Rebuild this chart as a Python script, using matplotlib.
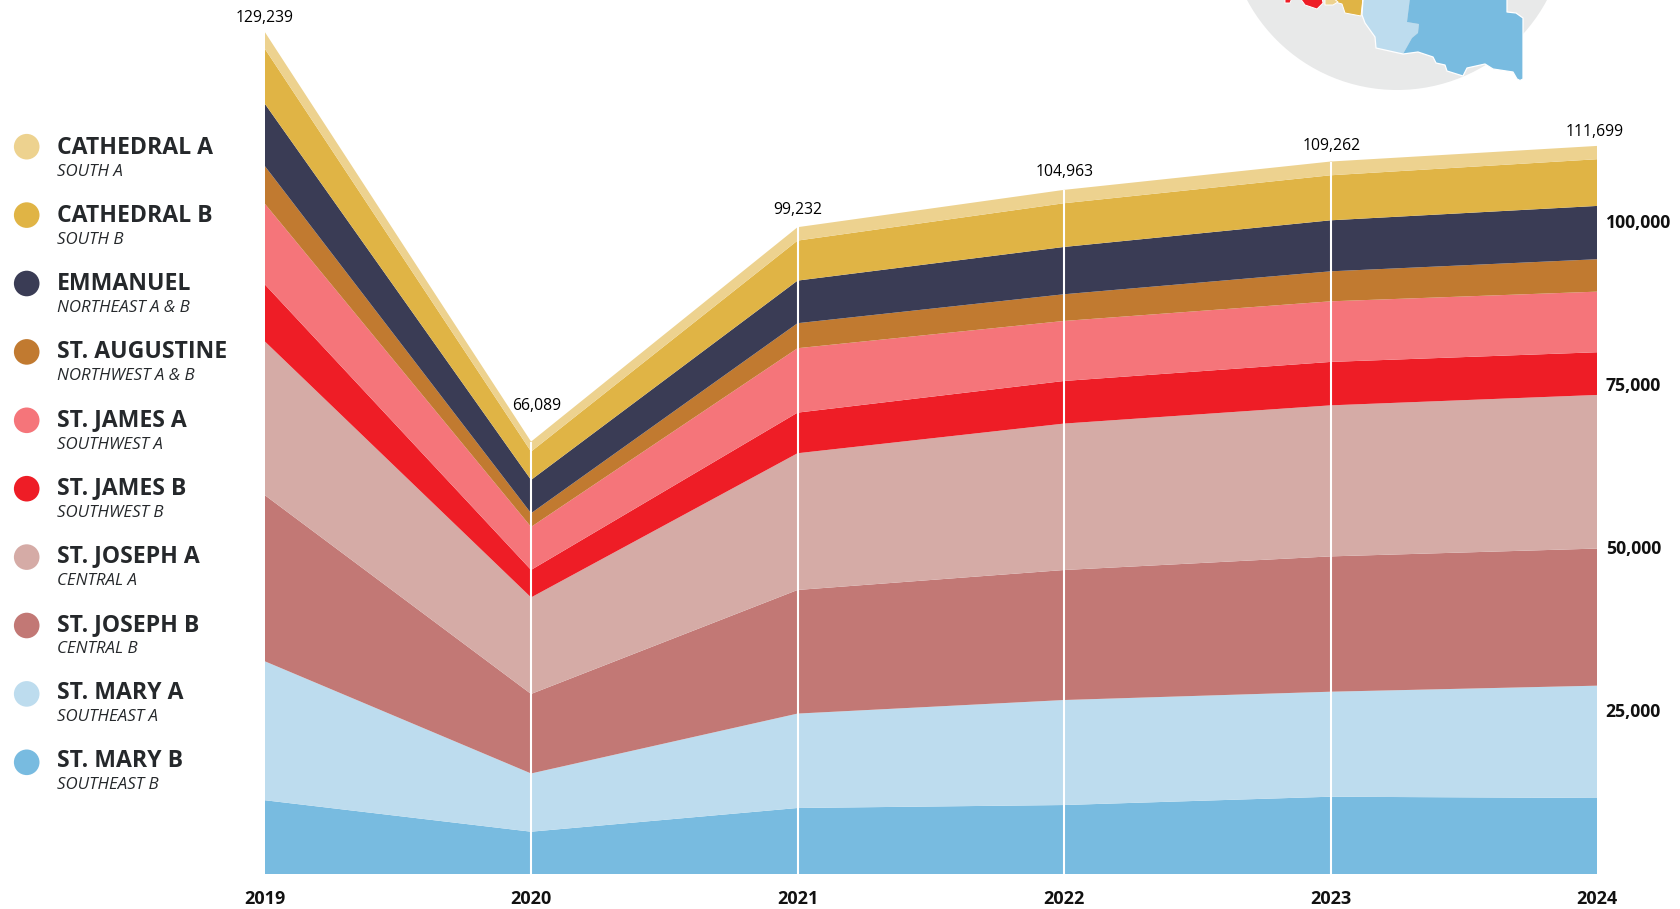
import matplotlib
matplotlib.use("Agg")
import matplotlib.pyplot as plt
from matplotlib.patches import Circle, Polygon
from matplotlib.transforms import ScaledTranslation

plt.rcParams['font.family'] = ['Open Sans', 'DejaVu Sans']

years = [2019, 2020, 2021, 2022, 2023, 2024]
totals = [129239, 66089, 99232, 104963, 109262, 111699]
total_labels = ['129,239', '66,089', '99,232', '104,963', '109,262', '111,699']
y_ticks = [25000, 50000, 75000, 100000]
y_tick_labels = ['25,000', '50,000', '75,000', '100,000']

st_mary_b = [11365, 6535, 10170, 10625, 11900, 11705]
st_mary_a = [21320, 8930, 14480, 16105, 16105, 17225]
st_joseph_b = [25490, 12195, 18960, 19940, 20755, 21030]
st_joseph_a = [23590, 14805, 20970, 22460, 23165, 23560]
st_james_b = [8745, 4220, 6230, 6535, 6660, 6550]
st_james_a = [12380, 6595, 9880, 9205, 9295, 9295]
st_augustine = [5785, 2100, 3835, 4095, 4600, 4970]
emmanuel = [9555, 5110, 6535, 7255, 7825, 8175]
cathedral_b = [8435, 4340, 6135, 6705, 6905, 7165]
cathedral_a = [2575, 1535, 2055, 2050, 2110, 2040]

series_bottom_up = [st_mary_b, st_mary_a, st_joseph_b, st_joseph_a, st_james_b,
                    st_james_a, st_augustine, emmanuel, cathedral_b, cathedral_a]
colors_bottom_up = ['#78BBE0', '#BDDCEE', '#C27875', '#D5ABA6', '#EE1D26',
                    '#F5757A', '#C17A30', '#3A3C55', '#E0B445', '#EDD28F']

legend_names = ['CATHEDRAL A', 'CATHEDRAL B', 'EMMANUEL', 'ST. AUGUSTINE', 'ST. JAMES A',
                'ST. JAMES B', 'ST. JOSEPH A', 'ST. JOSEPH B', 'ST. MARY A', 'ST. MARY B']
legend_subs = ['SOUTH A', 'SOUTH B', 'NORTHEAST A & B', 'NORTHWEST A & B', 'SOUTHWEST A',
               'SOUTHWEST B', 'CENTRAL A', 'CENTRAL B', 'SOUTHEAST A', 'SOUTHEAST B']

# Decorative inset map outlines, in figure pixels
map_mary_b = [(1410, -2), (1407, 22), (1419, 24), (1418, 33), (1412, 38), (1403, 54), (1418, 52),
              (1433, 57), (1436, 63), (1445, 65), (1447, 71), (1463, 76), (1467, 68), (1485, 64),
              (1493, 69), (1513, 72), (1517, 79), (1520, 80.5), (1523, 79), (1523, 18), (1516, 13),
              (1507, 12), (1507, -2)]
map_mary_a = [(1363, -2), (1362, 15), (1365, 23), (1375, 37), (1376, 48), (1403, 54), (1412, 38),
              (1418, 33), (1419, 24), (1407, 22), (1410, -2)]
map_coast = [(1363, -2), (1362, 15), (1365, 23), (1375, 37), (1376, 48), (1403, 54), (1418, 52),
             (1433, 57), (1436, 63), (1445, 65), (1447, 71), (1463, 76), (1467, 68), (1485, 64),
             (1493, 69), (1513, 72), (1517, 79), (1520, 80.5), (1523, 79), (1523, 18), (1516, 13),
             (1507, 12), (1507, -2)]
map_cath_b = [(1333, -2), (1335, 2), (1342, 4), (1345, 13), (1361, 16), (1363, -2)]
map_cath_a = [(1325, -2), (1325, 5), (1333, 5), (1338, 2), (1333, -2)]
map_red_1 = [(1285, -2), (1285, 3), (1290, 3), (1292, -2)]
map_red_2 = [(1300, -2), (1305, 5), (1317, 9), (1323, 3), (1322, -2)]

# Offsets of the total labels from the top of each stack: (x px, y px)
total_label_offsets = [(0, 14), (6, 36), (0, 17), (1, 18), (1, 16), (-2, 14)]

W, H = 1680, 909
X0, X1 = 264.6, 1597.0
BASE = 874.3
PX_PER_UNIT = 0.00652

fig = plt.figure(figsize=(W / 100, H / 100), dpi=100, facecolor='white')
ax = fig.add_axes([X0 / W, 1 - BASE / H, (X1 - X0) / W, BASE / H])
ax.stackplot(years, series_bottom_up, colors=colors_bottom_up, linewidth=0)
ax.set_xlim(2019, 2024)
ax.set_ylim(0, BASE / PX_PER_UNIT)
ax.patch.set_alpha(0)
for s in ax.spines.values():
    s.set_visible(False)

stack_tops = [sum(s[i] for s in series_bottom_up) for i in range(len(years))]
for yr, top in zip(years[1:-1], stack_tops[1:-1]):
    ax.plot([yr, yr], [0, top], color='white', lw=1.5, solid_capstyle='butt', zorder=3)

ax.set_xticks(years)
ax.set_xticklabels([str(y) for y in years], fontsize=13, fontweight='bold', color='#111111')
ax.yaxis.tick_right()
ax.set_yticks(y_ticks)
ax.set_yticklabels(y_tick_labels, fontsize=12.7, fontweight='bold', color='#111111')
ax.tick_params(axis='x', length=0, pad=11)
ax.tick_params(axis='y', length=0, pad=6.3)
shift_up = ScaledTranslation(0, 1 / 72 * 0.72, fig.dpi_scale_trans)
for lab in ax.get_yticklabels():
    lab.set_transform(lab.get_transform() + shift_up)

for yr, top, lab, (dx, dy) in zip(years, stack_tops, total_labels, total_label_offsets):
    ax.annotate(lab, (yr, top), xytext=(dx * 0.72, dy * 0.72), textcoords='offset points', ha='center',
                va='center', fontsize=11.3, color='#000000', clip_on=False)

# Pixel overlay for the legend and the inset map
ov = fig.add_axes([0, 0, 1, 1], facecolor='none')
ov.set_xlim(0, W)
ov.set_ylim(H, 0)
ov.axis('off')
ov.add_patch(Circle((1397, -80), 170, fc='#E8E9E9', ec='none'))
for pts, col in [(map_mary_a, '#BDDCEE'), (map_mary_b, '#78BBE0')]:
    ov.add_patch(Polygon(pts, closed=True, fc=col, ec='none'))
for pts, col in [(map_cath_b, '#E0B445'), (map_cath_a, '#EDD28F'), (map_red_1, '#EE1D26'), (map_red_2, '#EE1D26')]:
    ov.add_patch(Polygon(pts, closed=True, fc=col, ec='white', lw=0.7, joinstyle='round'))
ov.plot(*zip(*map_coast), color='white', lw=0.9, solid_joinstyle='round')

colors_top_down = colors_bottom_up[::-1]
for i, (name, sub, col) in enumerate(zip(legend_names, legend_subs, colors_top_down)):
    ov.add_patch(Circle((26.7, 146.7 + i * 68.4), 12.8, fc=col, ec='none'))
    ov.text(57, 147.5 + i * 68.15, name, fontsize=16.6, fontweight='bold', color='#25282B', va='center', ha='left')
    ov.text(57, 172.0 + i * 68.15, sub, fontsize=12.2, fontstyle='italic', color='#25282B', va='center', ha='left')

fig.savefig('out.png', dpi=100)
